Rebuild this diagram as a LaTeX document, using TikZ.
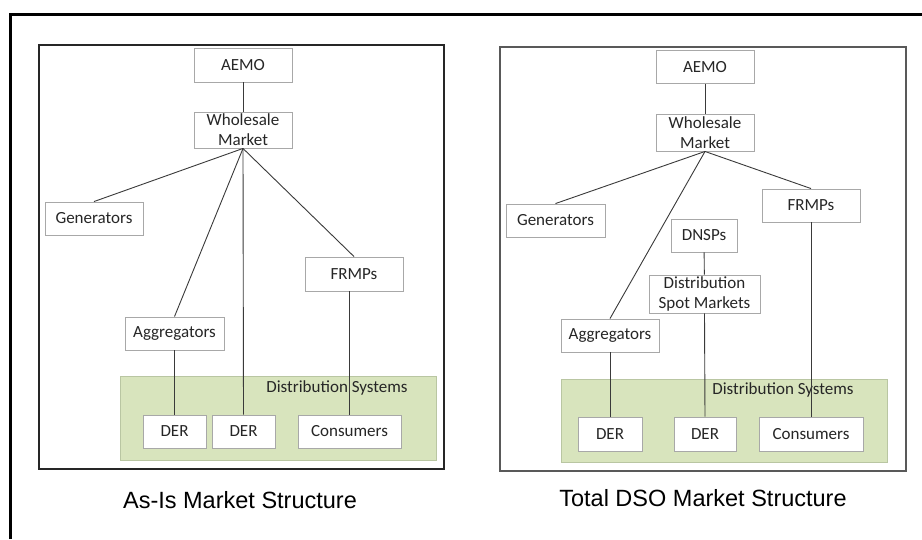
\documentclass[tikz,border=0pt]{standalone}
\usepackage{fontspec}
\setmainfont{Carlito}
\newfontfamily\titlefont{Liberation Sans}
\usepackage{tikz}
\usetikzlibrary{positioning,calc}
\definecolor{Ink}{HTML}{3A3A3A}
\definecolor{BoxLine}{HTML}{A8A8A8}
\definecolor{Grass}{HTML}{D8E4BD}
\definecolor{GrassLine}{HTML}{B9C6A2}

\begin{document}
\begin{tikzpicture}[x=1pt,y=-1pt,
  actor/.style={draw=BoxLine,fill=white,line width=0.9pt,inner sep=0pt,align=center,
    font=\fontsize{17}{20}\selectfont,text=black!85},
  link/.style={Ink,line width=0.9pt},
  zone/.style={draw=GrassLine,fill=Grass,line width=0.9pt,inner sep=0pt},
  caption/.style={font=\titlefont\fontsize{23.5}{26}\selectfont,text=black}]
\useasboundingbox (0,0) rectangle (922,539);
\fill[white] (0,0) rectangle (922,539);
\draw[black,line width=3pt] (10,539) -- (10,14) -- (922,14);
\draw[black!85,line width=2pt] (38.5,44.5) rectangle (443.5,469);
\draw[black!65,line width=1.2pt] (500,47) rectangle (906,471);
% as-is structure
\node[zone,minimum width=316,minimum height=84] (distA) at (278.000,418.000) {};
\node[font=\fontsize{17}{20}\selectfont,text=black!85] (distAlabel) at (337.000,388.000) {Distribution Systems};
\node[actor,minimum width=98,minimum height=34] (aemoA) at (243.000,65.000) {AEMO};
\node[actor,minimum width=98,minimum height=36] (wmA) at (243.000,130.000) {Wholesale\\Market};
\node[actor,minimum width=98,minimum height=33] (genA) at (94.000,218.500) {Generators};
\node[actor,minimum width=98,minimum height=34] (frmpA) at (354.000,274.000) {FRMPs};
\node[actor,minimum width=99,minimum height=33] (aggA) at (174.500,333.500) {Aggregators};
\node[actor,minimum width=63,minimum height=33] (derA1) at (174.500,431.500) {DER};
\node[actor,minimum width=63,minimum height=33] (derA2) at (243.500,431.500) {DER};
\node[actor,minimum width=103,minimum height=33] (consA) at (349.500,431.500) {Consumers};
\draw[link] (aemoA) -- (wmA);
\draw[link] (wmA.south) -- (genA.north);
\draw[link] (wmA.south) -- (aggA.north);
\draw[link] (wmA.south) -- (derA2.north);
\draw[link] (wmA.south) -- (frmpA.north);
\draw[link] (aggA) -- (derA1);
\draw[link] (consA.north) -- (consA.north |- frmpA.south);
\node[caption] (titleA) at (240.000,500.000) {As-Is Market Structure};
% total dso structure
\node[zone,minimum width=326,minimum height=83] (distB) at (724.000,420.500) {};
\node[font=\fontsize{17}{20}\selectfont,text=black!85] (distBlabel) at (783.000,390.000) {Distribution Systems};
\node[actor,minimum width=98,minimum height=33] (aemoB) at (705.000,67.000) {AEMO};
\node[actor,minimum width=98,minimum height=37] (wmB) at (705.000,132.500) {Wholesale\\Market};
\node[actor,minimum width=99,minimum height=33] (genB) at (555.500,220.500) {Generators};
\node[actor,minimum width=98,minimum height=33] (frmpB) at (811.000,205.500) {FRMPs};
\node[actor,minimum width=66,minimum height=33] (dnspB) at (704.000,235.500) {DNSPs};
\node[actor,minimum width=111,minimum height=38] (dsmB) at (704.500,294.000) {Distribution\\Spot Markets};
\node[actor,minimum width=98,minimum height=33] (aggB) at (610.000,335.500) {Aggregators};
\node[actor,minimum width=64,minimum height=34] (derB1) at (610.000,434.000) {DER};
\node[actor,minimum width=62,minimum height=34] (derB2) at (705.000,434.000) {DER};
\node[actor,minimum width=104,minimum height=34] (consB) at (811.000,434.000) {Consumers};
\draw[link] (aemoB) -- (wmB);
\draw[link] (wmB.south) -- (genB.north);
\draw[link] (wmB.south) -- (aggB.north);
\draw[link] (wmB.south) -- (frmpB.north);
\draw[link] (dnspB) -- (dsmB);
\draw[link] (dsmB.south) -- (derB2.north);
\draw[link] (aggB) -- (derB1);
\draw[link] (frmpB) -- (consB);
\node[caption] (titleB) at (703.000,498.000) {Total DSO Market Structure};
\end{tikzpicture}
\end{document}
